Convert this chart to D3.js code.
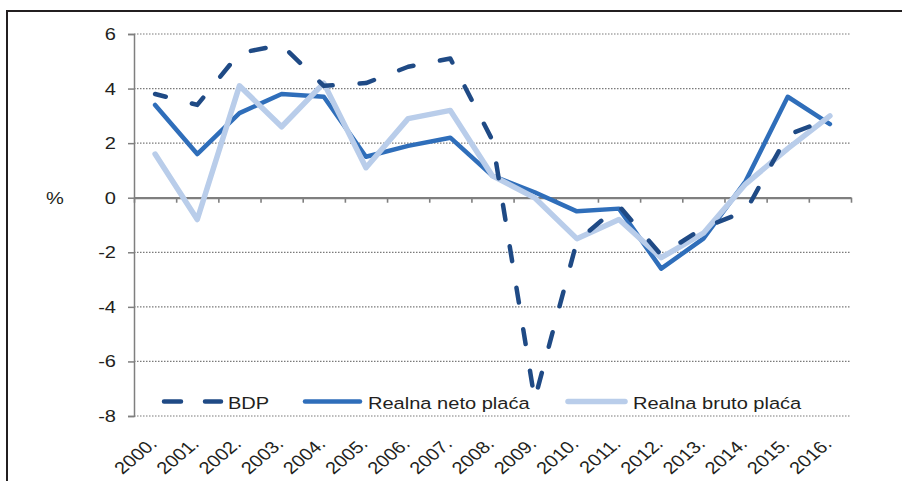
<!DOCTYPE html>
<html>
<head>
<meta charset="utf-8">
<script src="https://cdn.jsdelivr.net/npm/d3@7"></script>
<style>
  html, body { margin: 0; padding: 0; background: #fff; }
  svg { display: block; font-family: "Liberation Sans", Arial, sans-serif; }
</style>
</head>
<body>
<svg id="chart" width="902" height="481"></svg>
<script>
// Annual growth rates, %
const years = ["2000.", "2001.", "2002.", "2003.", "2004.", "2005.", "2006.", "2007.", "2008.",
               "2009.", "2010.", "2011.", "2012.", "2013.", "2014.", "2015.", "2016."];
const bdp   = [3.8, 3.4, 5.3, 5.6, 4.1, 4.2, 4.8, 5.1, 2.1, -7.4, -1.6, -0.3, -2.1, -1.1, -0.5, 2.3, 2.9];
const neto  = [3.4, 1.6, 3.1, 3.8, 3.7, 1.5, 1.9, 2.2, 0.8, 0.2, -0.5, -0.4, -2.6, -1.5, 0.6, 3.7, 2.7];
const bruto = [1.6, -0.8, 4.1, 2.6, 4.2, 1.1, 2.9, 3.2, 0.8, 0.0, -1.5, -0.8, -2.2, -1.3, 0.5, 1.8, 3.0];
const yTicks = [-8, -6, -4, -2, 0, 2, 4, 6];
const seriesNames = ["BDP", "Realna neto plaća", "Realna bruto plaća"];

// the typeface is set slightly wide
const FS = 17, SX = 1.18;
const wide = (x, y) => `translate(${x},${y}) scale(${SX},1)`;

const svg = d3.select("#chart");

// frame
svg.append("path")
  .attr("d", "M7,481V11H902")
  .attr("fill", "none").attr("stroke", "#231f20").attr("stroke-width", 2);

const x = d3.scaleBand().domain(years).range([134, 851]).padding(0);
const y = d3.scaleLinear().domain([-8, 6]).range([416, 34]);
const cx = d => x(d) + x.bandwidth() / 2;

// dotted gridlines
svg.append("g").selectAll("line")
  .data(yTicks.filter(v => v !== 0))
  .join("line")
  .attr("x1", 134).attr("x2", 851)
  .attr("y1", d => y(d)).attr("y2", d => y(d))
  .attr("stroke", "#7a7a7a").attr("stroke-width", 1.2)
  .attr("stroke-dasharray", "1.5,1.5");

// y axis
const yAxis = svg.append("g")
  .attr("transform", "translate(134,0)")
  .call(d3.axisLeft(y).tickValues(yTicks).tickSize(6).tickPadding(12).tickFormat(d3.format("d")));
yAxis.select(".domain").attr("stroke", "#7f7f7f").attr("stroke-width", 1.5);
yAxis.selectAll(".tick line").attr("stroke", "#7f7f7f").attr("stroke-width", 1.5);
yAxis.selectAll(".tick text")
  .attr("fill", "#231f20").attr("font-size", FS)
  .attr("font-family", "Liberation Sans, Arial, sans-serif")
  .attr("x", 0).attr("transform", wide(-18, 0))
  .text(d => d < 0 ? "-" + Math.abs(d) : d);

// x axis at zero, ticks on category boundaries
const edges = d3.scaleLinear().domain([0, years.length]).range([134, 851]);
const xAxis = svg.append("g")
  .attr("transform", `translate(0,${y(0)})`)
  .call(d3.axisBottom(edges).tickValues(d3.range(years.length + 1)).tickSize(5).tickFormat("").tickSizeOuter(0));
xAxis.select(".domain").attr("stroke", "#7f7f7f").attr("stroke-width", 2.2);
xAxis.selectAll(".tick line").attr("stroke", "#7f7f7f").attr("stroke-width", 1.6);

// category labels along the bottom
svg.append("g").selectAll("text")
  .data(years)
  .join("text")
  .attr("transform", d => `${wide(cx(d) + 3, y(-8) + 29)} rotate(-45)`)
  .attr("text-anchor", "end")
  .attr("font-size", FS)
  .attr("fill", "#231f20")
  .text(d => d);

// % label
svg.append("text")
  .attr("transform", wide(55, y(0)))
  .attr("dy", "0.35em")
  .attr("text-anchor", "middle").attr("font-size", FS).attr("fill", "#231f20")
  .text("%");

const styles = [
  { data: bdp,   color: "#1f4a85", width: 4.5, dash: "15,27" },
  { data: neto,  color: "#2f6eba", width: 4.5, dash: null },
  { data: bruto, color: "#b9cdea", width: 5.5, dash: null }
];

// legend
const legendItems = [
  { x1: 162, x2: 223, tx: 228 },
  { x1: 303, x2: 362, tx: 368 },
  { x1: 566, x2: 627, tx: 633 }
];
const legend = svg.append("g");
legendItems.forEach((it, i) => {
  const s = styles[i];
  legend.append("line")
    .attr("x1", it.x1 + 2).attr("x2", it.x2 - 2)
    .attr("y1", 401.5).attr("y2", 401.5)
    .attr("stroke", s.color).attr("stroke-width", s.width)
    .attr("stroke-linecap", "round")
    .attr("stroke-dasharray", i === 0 ? "17,24" : null);
  legend.append("text")
    .attr("transform", wide(it.tx, 408.5))
    .attr("font-size", FS).attr("fill", "#231f20")
    .text(seriesNames[i]);
});

// series lines: neto, bruto, then BDP on top
const line = d3.line().x((d, i) => cx(years[i])).y(d => y(d));
[1, 2, 0].forEach(i => {
  const s = styles[i];
  svg.append("path")
    .datum(s.data)
    .attr("d", line)
    .attr("fill", "none")
    .attr("stroke", s.color)
    .attr("stroke-width", s.width)
    .attr("stroke-linejoin", "round")
    .attr("stroke-linecap", "round")
    .attr("stroke-dasharray", s.dash)
    .attr("stroke-dashoffset", s.dash ? 4 : null);
});
</script>
</body>
</html>
